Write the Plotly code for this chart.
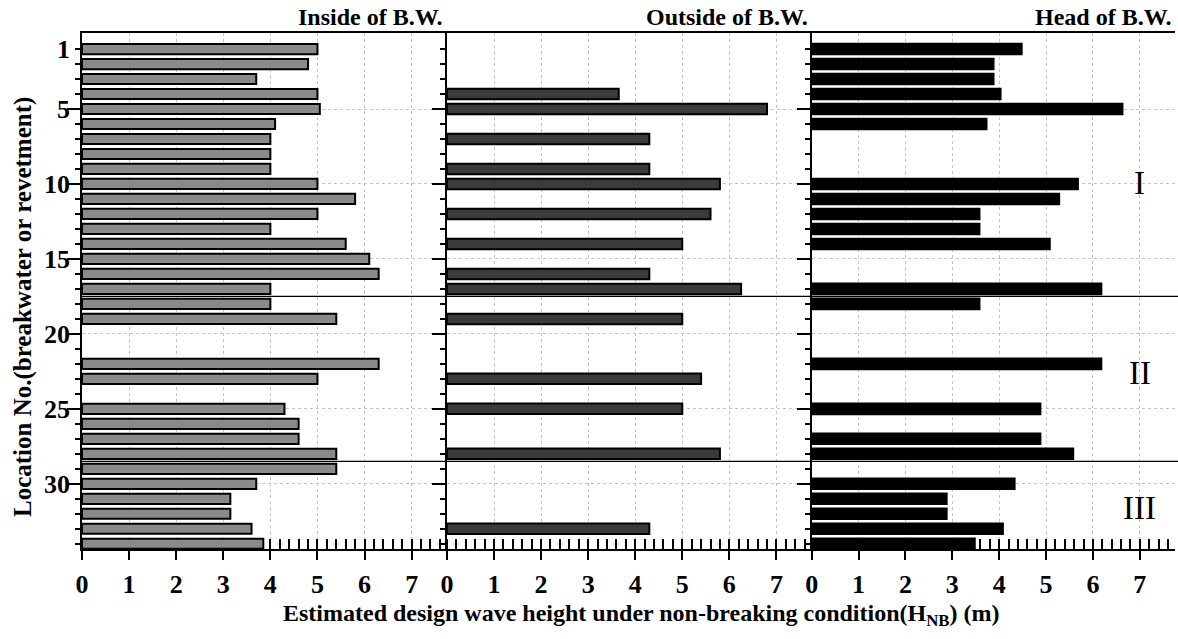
import plotly.graph_objects as go

locations = list(range(1, 35))
inside = [5.0, 4.8, 3.7, 5.0, 5.05, 4.1, 4.0, 4.0, 4.0, 5.0, 5.8, 5.0, 4.0, 5.6, 6.1, 6.3, 4.0,
          4.0, 5.4, None, None, 6.3, 5.0, None, 4.3, 4.6, 4.6, 5.4, 5.4, 3.7, 3.15, 3.15, 3.6, 3.85]
outside = [None, None, None, 3.65, 6.8, None, 4.3, None, 4.3, 5.8, None, 5.6, None, 5.0, None, 4.3, 6.25,
           None, 5.0, None, None, None, 5.4, None, 5.0, None, None, 5.8, None, None, None, None, 4.3, None]
head = [4.5, 3.9, 3.9, 4.05, 6.65, 3.75, None, None, None, 5.7, 5.3, 3.6, 3.6, 5.1, None, None, 6.2,
        3.6, None, None, None, 6.2, None, None, 4.9, None, 4.9, 5.6, None, 4.35, 2.9, 2.9, 4.1, 3.5]

panel_titles = ["Inside of B.W.", "Outside of B.W.", "Head of B.W."]
x_ticks = [0, 1, 2, 3, 4, 5, 6, 7]
y_major = [5, 10, 15, 20, 25, 30]
y_labels = [1, 5, 10, 15, 20, 25, 30]
region_bounds = [17.5, 28.5]
region_names = ["I", "II", "III"]
region_label_y = [9.95, 22.6, 31.6]
region_label_x = 7.0

SERIF = "Liberation Serif, Times New Roman, serif"
fills = ["#8a8a8a", "#3b3b3b", "#000000"]
edges = [2, 2, 0]
bar_widths = [0.68, 0.7, 0.84]
doms = [[0, 0.3339], [0.3339, 0.6676], [0.6676, 1.0]]
x_range = [0, 7.75]
y_range = [34.35, -0.07]

fig = go.Figure()
series = [inside, outside, head]
for i, vals in enumerate(series):
    sfx = "" if i == 0 else str(i + 1)
    fig.add_trace(go.Bar(
        x=vals, y=locations, orientation="h", width=bar_widths[i],
        marker=dict(color=fills[i], line=dict(color="black", width=edges[i])),
        xaxis="x" + sfx, yaxis="y" + sfx, showlegend=False, hoverinfo="x+y"))

layout = dict(
    width=1178, height=639,
    margin=dict(l=82, r=3, t=33, b=90),
    paper_bgcolor="white", plot_bgcolor="white",
    font=dict(family=SERIF, color="black", size=24),
)
tick_font = dict(family=SERIF, size=26, color="black")
for i in range(3):
    sfx = "" if i == 0 else str(i + 1)
    layout["xaxis" + sfx] = dict(
        domain=doms[i], range=x_range, anchor="y" + sfx,
        tickvals=x_ticks, ticktext=["<b>%d</b>" % v for v in x_ticks],
        ticks="outside", ticklen=9, tickwidth=2, tickcolor="black",
        ticklabelstandoff=2, tickfont=tick_font,
        showline=True, linecolor="black", linewidth=2, mirror=True,
        showgrid=True, gridcolor="#c4c4c4", griddash="dot", gridwidth=1,
        zeroline=False, layer="below traces",
        minor=dict(dtick=0.2, ticks="inside", ticklen=10, tickwidth=2, tickcolor="black", showgrid=False),
    )
    layout["yaxis" + sfx] = dict(
        domain=[0, 1], range=y_range, anchor="x" + sfx,
        tickvals=y_major, ticks="outside", ticklen=13, tickwidth=2, tickcolor="black",
        showticklabels=False,
        showline=True, linecolor="black", linewidth=2,
        showgrid=True, gridcolor="#c4c4c4", griddash="dot", gridwidth=1,
        zeroline=False,
        minor=dict(tickvals=locations, ticks="outside", ticklen=5, tickwidth=2, tickcolor="black", showgrid=False),
    )
    if i > 0:
        layout["yaxis" + sfx]["matches"] = "y"

layout["yaxis4"] = dict(
    overlaying="y", matches="y", anchor="x", side="left",
    tickvals=y_labels, ticktext=["<b>%d</b>" % v for v in y_labels],
    ticks="", showline=False, showgrid=False, zeroline=False,
    ticklabelstandoff=11, tickfont=tick_font,
)
fig.update_layout(**layout)
fig.add_trace(go.Scatter(x=[None], y=[None], xaxis="x", yaxis="y4", showlegend=False, hoverinfo="skip"))

for yb in region_bounds:
    fig.add_shape(type="line", xref="paper", yref="y", x0=0, x1=1.01, y0=yb, y1=yb,
                  line=dict(color="black", width=1.2), layer="above")

for name, ry in zip(region_names, region_label_y):
    fig.add_annotation(text=name, x=region_label_x, y=ry, xref="x3", yref="y3",
                       showarrow=False, font=dict(family=SERIF, size=33, color="black"))

for i, t in enumerate(panel_titles):
    fig.add_annotation(text="<b>" + t + "</b>", x=doms[i][1], y=1, xref="paper", yref="paper",
                       xanchor="right", yanchor="bottom", yshift=1, xshift=-2, showarrow=False,
                       font=dict(family=SERIF, size=24, color="black"))

fig.add_annotation(text="<b>Estimated design wave height under non-breaking condition(H<sub>NB</sub>) (m)</b>",
                   x=0.512, y=0, xref="paper", yref="paper", yanchor="middle", yshift=-66,
                   showarrow=False, font=dict(family=SERIF, size=24, color="black"))
fig.add_annotation(text="<b>Location No.(breakwater or revetment)</b>", textangle=-90,
                   x=0, y=0.5, xref="paper", yref="paper", xanchor="center", yanchor="middle",
                   xshift=-59, yshift=-16, showarrow=False,
                   font=dict(family=SERIF, size=25, color="black"))

fig.write_html("out.html", config={"displayModeBar": False},
               post_script="document.body.style.margin='0';")
